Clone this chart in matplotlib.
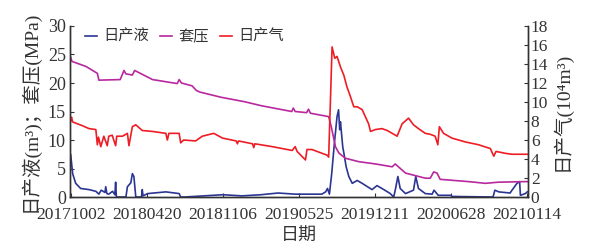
import matplotlib
matplotlib.use("Agg")
import matplotlib.pyplot as plt
from matplotlib.ticker import MultipleLocator

plt.rcParams['font.family'] = ['Liberation Serif', 'Noto Sans CJK SC', 'DejaVu Serif']

# x: days since 2017-10-02
tick_days = [0, 200, 400, 600, 800, 1000, 1200]
tick_labels = ["20171002", "20180420", "20181106", "20190525", "20191211", "20200628", "20210114"]

# 套压 (MPa), left axis
pres_days = [0, 3, 40, 70, 74, 130, 140, 145, 162, 168, 215, 280, 285, 291, 319, 330, 340,
             395, 458, 502, 581, 585, 590, 620, 625, 630, 678, 685, 696, 705, 722, 757, 801,
             845, 853, 880, 932, 945, 954, 963, 971, 1046, 1090, 1124, 1195, 1200]
pres_vals = [24.5, 23.8, 22.9, 21.7, 20.5, 20.6, 22.2, 21.6, 21.4, 22.2, 20.6, 19.9, 20.6, 20.0,
             19.5, 18.7, 18.4, 17.5, 16.7, 16.0, 15.0, 15.6, 15.0, 14.8, 15.4, 14.7, 14.1, 12.3,
             8.8, 7.7, 6.8, 6.2, 5.8, 5.3, 5.8, 4.2, 3.3, 3.3, 4.4, 4.2, 3.1, 2.7, 2.4, 2.6, 2.7, 2.7]

# 日产气 (10^4 m3), right axis
gas_days = [0, 2, 5, 31, 48, 66, 70, 73, 79, 87, 96, 100, 109, 118, 121, 136, 149, 153, 162, 171,
            188, 215, 250, 254, 258, 285, 289, 297, 328, 346, 376, 399, 435, 438, 441, 478, 481,
            484, 530, 582, 590, 595, 617, 621, 634, 674, 678, 683, 687, 694, 700, 709, 718, 726,
            735, 744, 753, 766, 783, 788, 801, 818, 832, 845, 858, 871, 888, 901, 914, 932, 945,
            958, 965, 969, 980, 1002, 1037, 1072, 1103, 1112, 1118, 1142, 1160, 1200]
gas_vals = [8.0, 8.4, 7.9, 7.5, 7.2, 7.1, 5.5, 6.3, 5.3, 6.4, 5.4, 6.4, 6.5, 5.4, 6.4, 6.4, 6.7,
            5.4, 7.4, 7.6, 7.0, 6.9, 6.7, 6.0, 6.7, 6.7, 5.7, 6.0, 5.9, 6.4, 6.7, 6.2, 5.9, 5.6,
            5.9, 5.6, 5.2, 5.6, 5.3, 4.9, 5.3, 4.8, 3.9, 5.0, 5.0, 4.4, 4.2, 10.6, 15.8, 14.6,
            14.8, 13.7, 12.8, 11.6, 10.6, 9.5, 9.5, 9.2, 7.7, 6.9, 7.1, 7.2, 7.0, 6.7, 6.4, 7.7,
            8.3, 7.6, 7.2, 6.7, 6.6, 6.4, 5.5, 7.4, 6.7, 6.2, 5.8, 5.5, 5.1, 4.3, 4.8, 4.6, 4.5, 4.5]

# 日产液 (m3), left axis
liq_days = [0, 5, 13, 26, 48, 66, 74, 80, 90, 92, 95, 100, 110, 116, 118, 120, 145, 149, 158, 162,
            166, 171, 186, 188, 190, 202, 250, 285, 289, 300, 350, 400, 450, 500, 545, 590, 660,
            670, 675, 680, 686, 693, 700, 704, 707, 709, 715, 718, 724, 731, 740, 753, 766, 792,
            805, 823, 840, 849, 853, 860, 866, 880, 901, 907, 914, 932, 950, 955, 966, 1000, 1002,
            1110, 1115, 1125, 1155, 1160, 1173, 1180, 1182, 1195, 1200]
liq_vals = [7.4, 4.1, 2.4, 1.5, 1.3, 1.0, 0.5, 1.2, 0.8, 1.8, 0.6, 0.5, 1.0, 0.4, 2.6, 0.0, 0.0,
            1.8, 2.5, 4.1, 3.6, 0.0, 0.0, 1.3, 0.2, 0.6, 0.9, 0.6, 0.0, 0.0, 0.2, 0.4, 0.2, 0.4,
            0.7, 0.5, 0.5, 0.9, 1.5, 0.5, 4.1, 9.4, 14.1, 15.3, 11.8, 13.2, 8.8, 7.7, 5.3, 3.6,
            2.4, 2.9, 2.4, 1.3, 2.0, 1.3, 0.6, 0.0, 1.2, 3.6, 1.5, 0.6, 1.2, 3.6, 1.5, 0.6, 0.5,
            1.2, 0.3, 0.3, 0.1, 0.0, 1.2, 0.9, 0.7, 1.2, 2.4, 2.7, 0.3, 0.6, 0.9]

c_blue = "#2b3593"
c_mag = "#b8289e"
c_red = "#ee1d25"
c_txt = "#333333"

fig = plt.figure(figsize=(5.91, 2.49), dpi=100)
ax = fig.add_axes([0.1184, 0.2088, 0.7750, 0.6868])
ax2 = ax.twinx()

l1, = ax.plot(liq_days, liq_vals, color=c_blue, lw=1.2)
l2, = ax.plot(pres_days, pres_vals, color=c_mag, lw=1.2)
l3, = ax2.plot(gas_days, gas_vals, color=c_red, lw=1.2)

ax.set_xlim(-2, 1202)
ax.set_ylim(0, 30)
ax2.set_ylim(0, 18)
ax.yaxis.set_major_locator(MultipleLocator(5))
ax2.yaxis.set_major_locator(MultipleLocator(2))
ax.set_xticks(tick_days)
ax.set_xticklabels(tick_labels)

for a in (ax, ax2):
    a.spines["top"].set_visible(False)
    for s in a.spines.values():
        s.set_linewidth(1.0)
        s.set_color(c_txt)

ax.tick_params(axis="y", direction="in", length=3, labelsize=13, pad=3, colors=c_txt)
ax.tick_params(axis="x", direction="in", length=3, labelsize=12.5, pad=7, colors=c_txt)
ax2.tick_params(axis="y", direction="in", length=3, labelsize=12.5, pad=2, colors=c_txt)

ax.set_ylabel("日产液(m³)；套压(MPa)", fontsize=14, color=c_txt, labelpad=6)
ax2.set_ylabel("日产气(10⁴m³)", fontsize=14, color=c_txt, labelpad=2)
ax.set_xlabel("日期", fontsize=13, color=c_txt, labelpad=4)

leg = ax.legend([l1, l2, l3], ["日产液", "套压", "日产气"], loc="upper left", ncol=3,
                frameon=False, fontsize=11, handlelength=0.8, handletextpad=0.4,
                columnspacing=0.7, bbox_to_anchor=(0.01, 1.04), borderaxespad=0.3)
for t in leg.get_texts():
    t.set_color(c_txt)

fig.savefig("out.png", dpi=100)
